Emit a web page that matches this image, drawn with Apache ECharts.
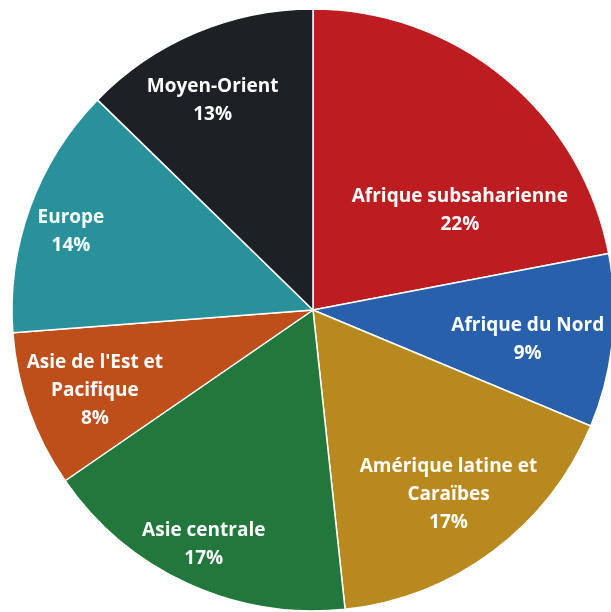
<!DOCTYPE html>
<html>
<head>
<meta charset="utf-8">
<style>
  html, body { margin: 0; padding: 0; background: #fff; }
  #chart { width: 611px; height: 612px; }
</style>
<script src="https://cdn.jsdelivr.net/npm/echarts@6/dist/echarts.min.js"></script>
</head>
<body>
<div id="chart"></div>
<script>
// Data
const categories = [
  'Afrique subsaharienne',
  'Afrique du Nord',
  'Amérique latine et\nCaraïbes',
  'Asie centrale',
  "Asie de l'Est et\nPacifique",
  'Europe',
  'Moyen-Orient'
];
// Shares (%)
const shares = [22.0, 9.3, 17.0, 17.1, 8.4, 13.5, 12.7];
// Percent labels as printed on the chart
const percentLabels = ['22%', '9%', '17%', '17%', '8%', '14%', '13%'];
const colors = ['#bd1c20', '#2960ac', '#b8891f', '#22783c', '#be4f1a', '#29919a', '#1d2024'];

// Label placement (fraction of radius, angular shift in degrees)
const labelRadiusFrac = [0.59, 0.72, 0.76, 0.86, 0.772, 0.845, 0.77];
const labelAngleShift = [16.2, 1.8, 0.4, 0.3, -0.75, -2.1, -2.8];

const CX = 313, CY = 310, R = 301;

const total = shares.reduce((a, b) => a + b, 0);
const midAngles = [];
let acc = 0;
shares.forEach(v => { midAngles.push((acc + v / 2) / total * 360); acc += v; });

const chart = echarts.init(document.getElementById('chart'), null, { renderer: 'canvas' });
chart.setOption({
  animation: false,
  backgroundColor: '#fff',
  series: [{
    type: 'pie',
    center: [CX, CY],
    radius: [0, R],
    startAngle: 90,
    clockwise: true,
    avoidLabelOverlap: false,
    data: categories.map((c, i) => ({
      name: c, value: shares[i], itemStyle: { color: colors[i] }
    })),
    itemStyle: { borderColor: '#ffffff', borderWidth: 1.5 },
    label: {
      show: true,
      position: 'inside',
      color: '#ffffff',
      fontFamily: 'Open Sans',
      fontWeight: 'bold',
      fontSize: 19,
      lineHeight: 28,
      align: 'center',
      formatter: p => p.name + '\n' + percentLabels[p.dataIndex]
    },
    labelLine: { show: false },
    labelLayout: function (params) {
      const i = params.dataIndex;
      const a = (midAngles[i] + labelAngleShift[i]) * Math.PI / 180;
      const r = labelRadiusFrac[i] * R;
      return {
        x: CX + r * Math.sin(a),
        y: CY - r * Math.cos(a),
        align: 'center',
        verticalAlign: 'middle'
      };
    }
  }]
});
</script>
</body>
</html>
